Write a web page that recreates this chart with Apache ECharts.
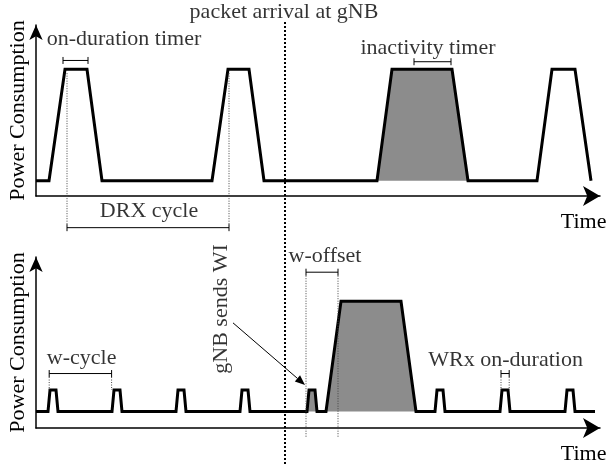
<!DOCTYPE html>
<html><head><meta charset="utf-8">
<script src="https://cdn.jsdelivr.net/npm/echarts@6/dist/echarts.min.js"></script>
<style>html,body{margin:0;padding:0;background:#fff}#c{width:610px;height:464px}</style>
</head><body><div id="c"></div>
<script>
// ---- data (time in arbitrary units, power normalised to active level = 1) ----
// Upper panel: conventional DRX
const drxSignal = [
  [0,0.12],[3.25,0.12],[7.25,1],[12.75,1],[16.5,0.12],
  [44,0.12],[48,1],[53.25,1],[57,0.12],
  [85.25,0.12],[89,1],[104,1],[108,0.12],
  [125.25,0.12],[129,1],[134.75,1],[138.75,0.12]
];
const drxActiveWindow = [85.25, 108];
const drxLow = 0.12;
// Lower panel: wake-up receiver
const wurSignal = [
  [0,0.13],[3,0.13],[3.5,0.3],[5,0.3],[5.5,0.13],
  [19,0.13],[19.5,0.3],[21,0.3],[21.5,0.13],
  [35,0.13],[35.5,0.3],[37,0.3],[37.5,0.13],
  [51,0.13],[51.5,0.3],[53,0.3],[53.5,0.13],
  [67.75,0.13],[68.25,0.3],[69.75,0.3],[70.25,0.13],
  [72.5,0.13],[76.25,1],[91.25,1],[95,0.13],
  [99.75,0.13],[100.25,0.3],[101.75,0.3],[102.25,0.13],
  [116,0.13],[116.5,0.3],[118,0.3],[118.5,0.13],
  [132.25,0.13],[132.75,0.3],[134.25,0.3],[134.75,0.13],[139.75,0.13]
];
const wurActiveWindow = [67.75, 95];
const wurLow = 0.13;
// packet arrival instant
const packetArrival = 62.25;
// brackets: [start, end, level, guide level or null]
const drxBrackets = [
  [6.75, 13, 1.07, null],        // on-duration timer
  [7.75, 48.25, -0.25, 0.98],    // DRX cycle
  [94.5, 103.75, 1.06, null]     // inactivity timer
];
const wurBrackets = [
  [3.3, 18.9, 0.43, 0.3],        // w-cycle
  [67.5, 75.5, 1.23, -0.07],     // w-offset
  [116.25, 118.3, 0.43, 0.3]     // WRx on-duration
];
// labels: [text, time, level, rotation]
const drxLabels = [
  ['packet arrival at gNB', 62, 1.448, 0],
  ['on-duration timer', 22, 1.235, 0],
  ['inactivity timer', 98, 1.168, 0],
  ['DRX cycle', 28.25, -0.122, 0]
];
const wurLabels = [
  ['w-cycle', 11.4, 0.552, 0],
  ['gNB sends WI', 46.25, 0.94, 90],
  ['w-offset', 72.25, 1.36, 0],
  ['WRx on-duration', 117.4, 0.533, 0]
];
const wiArrow = [[49.25, 0.83], [67.25, 0.34]];

// ---- rendering ----
const FAMILY = 'Liberation Serif';
const dotted = {stroke:'#444', lineWidth:1, lineDash:[1,1.5]};

function activePart(sig, win){ return sig.filter(p => p[0] >= win[0] && p[0] <= win[1]); }

function bracketRenderer(list){
  return function(params, api){
    const b = list[params.dataIndex];
    const a = api.coord([b[0], b[2]]), c = api.coord([b[1], b[2]]);
    const st = {stroke:'#000', lineWidth:1};
    const ch = [
      {type:'line', shape:{x1:a[0],y1:a[1],x2:c[0],y2:c[1]}, style:st},
      {type:'line', shape:{x1:a[0],y1:a[1]-3.5,x2:a[0],y2:a[1]+3.5}, style:st},
      {type:'line', shape:{x1:c[0],y1:c[1]-3.5,x2:c[0],y2:c[1]+3.5}, style:st}
    ];
    if (b[3] !== null){
      const ga = api.coord([b[0], b[3]]), gc = api.coord([b[1], b[3]]);
      const off = ga[1] > a[1] ? 3.5 : -3.5;
      ch.push({type:'line', shape:{x1:a[0],y1:a[1]+off,x2:ga[0],y2:ga[1]}, style:dotted});
      ch.push({type:'line', shape:{x1:c[0],y1:c[1]+off,x2:gc[0],y2:gc[1]}, style:dotted});
    }
    return {type:'group', children:ch};
  };
}
function labelSeries(list, idx){
  return {type:'scatter', xAxisIndex:idx, yAxisIndex:idx, silent:true, clip:false, z:6,
    symbol:'circle', symbolSize:1, itemStyle:{color:'rgba(0,0,0,0)'},
    data: list.map(l => ({name:l[0], value:[l[1], l[2]], label:{rotate:l[3]}})),
    label:{show:true, position:'inside', formatter:'{b}', color:'#000', fontFamily:FAMILY, fontSize:22,
      align:'center', verticalAlign:'middle'}};
}

function axes(gridIndex){
  return {
    x: {type:'value', gridIndex, min:0, max:141, name:'Time', nameLocation:'end', nameGap:6.5,
        nameTextStyle:{color:'#000', fontSize:22, fontFamily:FAMILY, align:'right', verticalAlign:'top', padding:[15,0,0,0]},
        axisLine:{show:true, symbol:['none','arrow'], symbolSize:[15,17], lineStyle:{color:'#000', width:1.5}},
        axisTick:{show:false}, axisLabel:{show:false}, splitLine:{show:false}},
    y: {type:'value', gridIndex, min:0, max:1.35, name:'Power Consumption', nameLocation:'middle', nameRotate:90, nameGap:7,
        nameTextStyle:{color:'#000', fontSize:22, fontFamily:FAMILY},
        axisLine:{show:true, symbol:['none','arrow'], symbolSize:[10,15], lineStyle:{color:'#000', width:1.5}},
        axisTick:{show:false}, axisLabel:{show:false}, splitLine:{show:false}}
  };
}
const A0 = axes(0), A1 = axes(1);

const chart = echarts.init(document.getElementById('c'), null, {renderer:'canvas'});
chart.setOption({
  animation:false,
  backgroundColor:'#fff',
  grid:[
    {left:36, top:25, width:564, height:171, outerBoundsMode:'none'},
    {left:36, top:257, width:564, height:171, outerBoundsMode:'none'}
  ],
  xAxis:[A0.x, A1.x],
  yAxis:[A0.y, A1.y],
  series:[
    {type:'line', xAxisIndex:0, yAxisIndex:0, data:activePart(drxSignal, drxActiveWindow), symbol:'none', silent:true, z:1,
     lineStyle:{opacity:0}, areaStyle:{color:'#8c8c8c', opacity:1, origin:drxLow}},
    {type:'line', xAxisIndex:0, yAxisIndex:0, data:drxSignal, symbol:'none', silent:true, z:3,
     lineStyle:{color:'#000', width:3, join:'miter'}},
    {type:'line', xAxisIndex:1, yAxisIndex:1, data:activePart(wurSignal, wurActiveWindow), symbol:'none', silent:true, z:1,
     lineStyle:{opacity:0}, areaStyle:{color:'#8c8c8c', opacity:1, origin:wurLow}},
    {type:'line', xAxisIndex:1, yAxisIndex:1, data:wurSignal, symbol:'none', silent:true, z:3,
     lineStyle:{color:'#000', width:3, join:'miter'}},
    {type:'custom', xAxisIndex:0, yAxisIndex:0, silent:true, z:4, data:[[packetArrival, 0]],
     renderItem:function(params, api){
       const a = api.coord([packetArrival, 1.373]), b = api.coord([packetArrival, -2.12]);
       return {type:'line', shape:{x1:a[0],y1:a[1],x2:b[0],y2:b[1]}, style:{stroke:'#000', lineWidth:2, lineDash:[2,2]}};
     }},
    {type:'custom', xAxisIndex:0, yAxisIndex:0, silent:true, z:4, data:drxBrackets.map(b=>[b[0], b[2]]), renderItem:bracketRenderer(drxBrackets)},
    {type:'custom', xAxisIndex:1, yAxisIndex:1, silent:true, z:4, data:wurBrackets.map(b=>[b[0], b[2]]), renderItem:bracketRenderer(wurBrackets)},
    labelSeries(drxLabels, 0),
    labelSeries(wurLabels, 1),
    {type:'custom', xAxisIndex:1, yAxisIndex:1, silent:true, z:5, data:[wiArrow[0]],
     renderItem:function(params, api){
       const s = api.coord(wiArrow[0]), e = api.coord(wiArrow[1]);
       const dx = e[0]-s[0], dy = e[1]-s[1], len = Math.sqrt(dx*dx+dy*dy);
       const ux = dx/len, uy = dy/len, L = 10, W = 4;
       const bx = e[0]-ux*L, by = e[1]-uy*L;
       return {type:'group', children:[
         {type:'line', shape:{x1:s[0],y1:s[1],x2:bx,y2:by}, style:{stroke:'#000', lineWidth:1}},
         {type:'polygon', shape:{points:[[e[0],e[1]],[bx-uy*W,by+ux*W],[bx+uy*W,by-ux*W]]}, style:{fill:'#000'}}
       ]};
     }}
  ]
});
</script>
</body></html>
